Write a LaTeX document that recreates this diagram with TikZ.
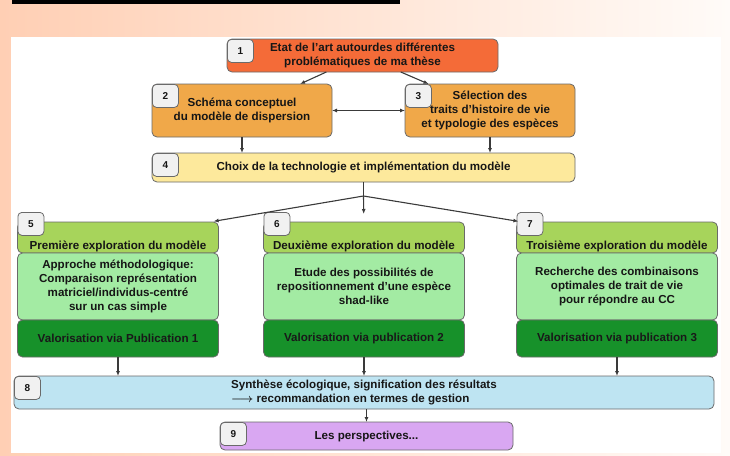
\documentclass[tikz,border=0pt]{standalone}
\usepackage{amsmath}
\usepackage{fontspec}
\setmainfont{Liberation Sans}
\usepackage{xcolor}
\usepackage{tikz}
\usetikzlibrary{arrows.meta,positioning}

\definecolor{bgleft}{HTML}{FFCFB4}
\definecolor{bgright}{HTML}{FFFBF8}
\definecolor{framegray}{HTML}{6A6A6A}
\definecolor{arrowgray}{HTML}{3A3A3A}
\definecolor{textgray}{HTML}{161616}
\definecolor{tabfill}{HTML}{F1F1F1}
\definecolor{etatcol}{HTML}{F46B38}
\definecolor{orangecol}{HTML}{F0A849}
\definecolor{choixcol}{HTML}{FDE99C}
\definecolor{explcol}{HTML}{A7D45B}
\definecolor{appcol}{HTML}{A3EBA3}
\definecolor{valocol}{HTML}{17912A}
\definecolor{synthcol}{HTML}{BEE4F2}
\definecolor{perspcol}{HTML}{D9A7F2}

\begin{document}
\begin{tikzpicture}[
    x=1pt, y=-1pt,
    font=\bfseries\fontsize{11.6}{14}\selectfont,
    box/.style={draw=framegray, line width=0.8pt, rounded corners=5pt, align=center, inner sep=0pt, outer sep=0pt, text=textgray},
    expl/.style={box, fill=explcol, minimum width=201pt, minimum height=31pt, text height=23pt, text depth=0pt, inner ysep=4pt},
    app/.style={box, fill=appcol, minimum width=201pt, minimum height=67pt},
    valo/.style={box, fill=valocol, minimum width=201pt, minimum height=37pt, text=black!90},
    tab/.style={draw=framegray, fill=tabfill, line width=0.8pt, rounded corners=4pt, minimum width=26pt, minimum height=23pt, inner sep=0pt, anchor=north west, text=textgray, font=\bfseries\fontsize{10}{12}\selectfont},
    line/.style={-{Latex[length=5pt,width=4pt]}, line width=1.1pt, draw=arrowgray}
]
\shade[left color=bgleft, right color=bgright] (0,0) rectangle (730,455);
\fill[white] (11,37) rectangle (721,453);
\fill[black] (12,0) rectangle (400,3.5);

\node[box, fill=etatcol, minimum width=271pt, minimum height=33pt] (etat) at (362.5,55.5) {Etat de l'art autourdes différentes\\problématiques de ma thèse};
\node[box, fill=orangecol, minimum width=180pt, minimum height=53pt] (schema) at (242,110.5) {Schéma conceptuel\\du modèle de dispersion};
\node[box, fill=orangecol, minimum width=170pt, minimum height=53pt] (traits) at (490,110.5) {Sélection des\\traits d'histoire de vie\\et typologie des espèces};
\node[box, fill=choixcol, minimum width=423pt, minimum height=29pt] (choix) at (363.5,167.5) {Choix de la technologie et implémentation du modèle};

\node[expl] (expl1) at (118,237.5) {Première exploration du modèle};
\node[app, below=0pt of expl1] (app1) {Approche méthodologique:\\Comparaison représentation\\matriciel/individus-centré\\sur un cas simple};
\node[valo, below=0pt of app1] (valo1) {Valorisation via Publication 1};

\node[expl] (expl2) at (364,237.5) {Deuxième exploration du modèle};
\node[app, below=0pt of expl2] (app2) {Etude des possibilités de\\repositionnement d'une espèce\\shad-like};
\node[valo, below=0pt of app2] (valo2) {Valorisation via publication 2};

\node[expl] (expl3) at (617,237.5) {Troisième exploration du modèle};
\node[app, below=0pt of expl3] (app3) {Recherche des combinaisons\\optimales de trait de vie\\pour répondre au CC};
\node[valo, below=0pt of app3] (valo3) {Valorisation via publication 3};

\node[box, fill=synthcol, minimum width=700pt, minimum height=33pt, align=left] (synth) at (364,392.5) {Synthèse écologique, signification des résultats\\$\boldsymbol{\longrightarrow}$ recommandation en termes de gestion};
\node[box, fill=perspcol, minimum width=293pt, minimum height=28pt] (persp) at (366.5,436) {Les perspectives...};

\node[tab] (n1) at (etat.north west) {1};
\node[tab] (n2) at (schema.north west) {2};
\node[tab] (n3) at (traits.north west) {3};
\node[tab] (n4) at (choix.north west) {4};
\node[tab] (n5) at ([yshift=10pt]expl1.north west) {5};
\node[tab] (n6) at ([yshift=10pt]expl2.north west) {6};
\node[tab] (n7) at ([yshift=10pt]expl3.north west) {7};
\node[tab] (n8) at (synth.north west) {8};
\node[tab] (n9) at (persp.north west) {9};

\coordinate (split) at (363.5,196);
\draw[line] (etat) -- (schema);
\draw[line] (etat) -- (traits);
\draw[line, {Latex[length=5pt,width=4pt]}-{Latex[length=5pt,width=4pt]}] (schema) -- (traits);
\draw[line] (schema) -- (schema |- choix.north);
\draw[line] (traits) -- (traits |- choix.north);
\draw[line width=1.1pt, draw=arrowgray] (choix) -- (split);
\draw[line, shorten >=4pt] (split) -- (expl1);
\draw[line, shorten >=8pt] (split) -- (expl2);
\draw[line, shorten >=4pt] (split) -- (expl3);
\draw[line] (valo1) -- (valo1 |- synth.north);
\draw[line] (valo2) -- (valo2 |- synth.north);
\draw[line] (valo3) -- (valo3 |- synth.north);
\draw[line] (persp |- synth.south) -- (persp);
\end{tikzpicture}
\end{document}
